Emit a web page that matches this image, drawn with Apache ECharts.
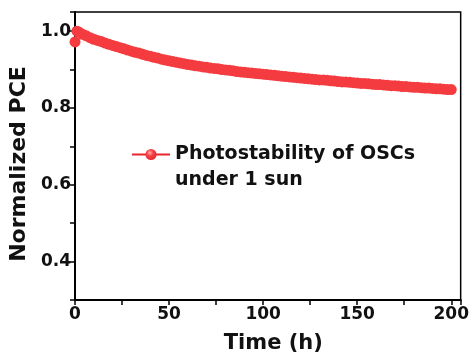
<!DOCTYPE html>
<html>
<head>
<meta charset="utf-8">
<script src="https://cdn.jsdelivr.net/npm/echarts@6/dist/echarts.min.js"></script>
<style>html,body{margin:0;padding:0;background:#fff}#c{width:472px;height:360px}</style>
</head>
<body>
<div id="c"></div>
<script>
var seriesName = 'Photostability of OSCs';
var legendLine2 = 'under 1 sun';
var xTitle = 'Time (h)';
var yTitle = 'Normalized PCE';
var times = [0,1,2,4,6,8,10,12,14,16,18,20,22,24,26,28,30,32,34,36,38,40,42,44,46,48,50,
  52,54,56,58,60,62,64,66,68,70,72,74,76,78,80,82,84,86,88,90,92,94,96,98,100,
  102,104,106,108,110,112,114,116,118,120,122,124,126,128,130,132,134,136,138,140,
  142,144,146,148,150,152,154,156,158,160,162,164,166,168,170,172,174,176,178,180,
  182,184,186,188,190,192,194,196,198,200];
var pce = [0.972,1.000,0.998,0.992,0.988,0.983,0.979,0.976,0.973,0.969,0.966,0.963,0.960,0.957,0.954,0.951,0.948,0.945,0.943,0.940,0.937,0.935,0.932,0.930,0.927,0.925,0.923,
  0.921,0.919,0.917,0.915,0.913,0.912,0.910,0.909,0.907,0.906,0.904,0.903,0.902,0.900,0.899,0.898,0.897,0.895,0.894,0.893,0.892,0.891,0.890,0.889,0.888,
  0.887,0.886,0.885,0.884,0.883,0.882,0.881,0.880,0.879,0.878,0.877,0.876,0.875,0.874,0.873,0.873,0.872,0.871,0.870,0.869,
  0.868,0.868,0.867,0.866,0.865,0.864,0.864,0.863,0.862,0.861,0.861,0.860,0.859,0.858,0.858,0.857,0.856,0.856,0.855,0.854,
  0.854,0.853,0.852,0.852,0.851,0.850,0.850,0.849,0.848,0.848];
var xLabels = [0,50,100,150,200];
var yLabels = [0.4,0.6,0.8,1.0];

var data = times.map(function(t,i){return [t,pce[i]];});
var FONT = 'DejaVu Sans';
var chart = echarts.init(document.getElementById('c'), null, {renderer:'canvas'});
chart.setOption({
  animation:false,
  backgroundColor:'#fff',
  grid:{left:75,right:10,top:12,bottom:60,show:true,borderColor:'#000',borderWidth:1.5,backgroundColor:'transparent'},
  legend:{
    show:true, left:131, top:145, padding:0, itemWidth:38, itemHeight:14,
    data:[{name:seriesName,itemStyle:{color:new echarts.graphic.RadialGradient(0.4,0.35,0.65,[{offset:0,color:'#ffb0b0'},{offset:0.45,color:'#f44045'},{offset:1,color:'#e82a30'}])}}],
    textStyle:{fontFamily:FONT,fontWeight:'bold',fontSize:19,color:'#111'}
  },
  graphic:[{type:'text',left:175,top:171,style:{text:legendLine2,fontFamily:FONT,fontWeight:'bold',fontSize:19,fill:'#111'}}],
  xAxis:{
    type:'value',min:0,max:205,interval:25,
    name:xTitle,nameLocation:'middle',nameGap:33,
    nameTextStyle:{fontFamily:FONT,fontWeight:'bold',fontSize:21,color:'#111',padding:[0,0,0,11]},
    axisLine:{show:true,lineStyle:{color:'#000',width:2}},
    axisTick:{show:true,inside:false,length:5,lineStyle:{color:'#000',width:1.5}},
    axisLabel:{margin:6,fontFamily:FONT,fontWeight:'bold',fontSize:17,color:'#111',
      formatter:function(v){return xLabels.indexOf(v)>=0?String(v):'';}},
    splitLine:{show:false}
  },
  yAxis:{
    type:'value',min:0.3,max:1.05,interval:0.1,
    name:yTitle,nameLocation:'middle',nameGap:42,
    nameTextStyle:{fontFamily:FONT,fontWeight:'bold',fontSize:22,color:'#111',padding:[0,16,0,0]},
    axisLine:{show:true,lineStyle:{color:'#000',width:2}},
    axisTick:{show:true,inside:false,length:5,lineStyle:{color:'#000',width:1.5}},
    axisLabel:{margin:4,fontFamily:FONT,fontWeight:'bold',fontSize:17,color:'#111',
      formatter:function(v){
        var r=Math.round(v*10)/10;
        for(var i=0;i<yLabels.length;i++){ if(Math.abs(yLabels[i]-r)<1e-6 && Math.abs(v-r)<1e-6) return r.toFixed(1);}
        return '';
      }},
    splitLine:{show:false}
  },
  series:[{
    type:'line',name:seriesName,data:data,
    symbol:'circle',symbolSize:11,showAllSymbol:true,
    lineStyle:{color:'#e8262b',width:2},
    itemStyle:{color:'#f43c40',borderWidth:0}
  }]
});
</script>
</body>
</html>
